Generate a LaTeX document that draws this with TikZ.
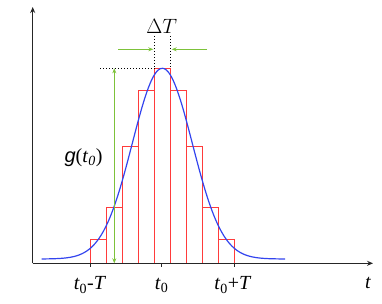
\documentclass[tikz,border=0pt]{standalone}
\usepackage{fontspec}
\setmainfont{Liberation Serif}
\newfontfamily\gsans{Liberation Sans}
\usetikzlibrary{arrows.meta}
\definecolor{curveblue}{HTML}{3344EE}
\definecolor{bargreen}{HTML}{7DC23A}
\definecolor{barred}{HTML}{FF3B3B}
\tikzset{
  axis/.style={line width=1.2pt, draw=black!85, -{Stealth[length=6pt,width=5pt]}},
  barbox/.style={draw=barred, line width=0.8pt},
  dimarrow/.style={draw=bargreen, line width=1pt, -{Stealth[length=5pt,width=4pt]}},
  dimarrowboth/.style={draw=bargreen, line width=1pt, {Stealth[length=5pt,width=4pt]}-{Stealth[length=5pt,width=4pt]}},
  dotline/.style={draw=black, line width=1pt, dotted},
  lab/.style={font=\fontsize{20}{24}\selectfont, inner sep=0pt}
}
\begin{document}
\begin{tikzpicture}[x=1pt,y=1pt]
\useasboundingbox (0,0) rectangle (382,303);
% axes
\coordinate (O) at (32.7,39.7);
\coordinate (ytop) at (32.7,296);
\coordinate (xend) at (373,39.7);
% bars
\foreach \i/\h in {0/24,1/56,2/116.7,3/173.3,4/195,5/173.3,6/116.7,7/56,8/24}{
  \draw[barbox] ({90.3+16*\i},39.7) rectangle ({106.3+16*\i},{39.7+\h});
}
% gaussian
\draw[curveblue, line width=1.2pt, domain=41.7:285, samples=120, smooth]
  plot (\x,{44+190.7*exp(-((\x-162.3)^2)/(2*30*30))});
\draw[axis] (O) -- (ytop);
\draw[axis] (O) -- (xend);
% ticks
\coordinate (tm) at (90.3,39.7);
\coordinate (tc) at (161.7,39.7);
\coordinate (tp) at (234.3,39.7);
\foreach \c in {tm,tc,tp}{ \draw[line width=1pt, black!85] (\c) -- ++(0,-4); }
% dotted guides
\coordinate (dl) at (100,234.7);
\coordinate (pkl) at (154.3,234.7);
\coordinate (pkr) at (170.3,234.7);
\coordinate (dtl) at (154.3,267);
\coordinate (dtr) at (170.3,267);
\draw[dotline] (dl) -- (pkl);
\draw[dotline] (dtl) -- (pkl);
\draw[dotline] (dtr) -- (pkr);
% green arrows
\coordinate (gtop) at (114.3,234.7);
\coordinate (gbot) at (114.3,39.7);
\draw[dimarrowboth] (gtop) -- (gbot);
\coordinate (al0) at (118,253.7);
\coordinate (al1) at (153.3,253.7);
\coordinate (ar0) at (207,253.7);
\coordinate (ar1) at (171.7,253.7);
\draw[dimarrow] (al0) -- (al1);
\draw[dimarrow] (ar0) -- (ar1);
% labels
\node[lab] (dT) at (161.7,277) {$\Delta T$};
\node[lab] (g) at (83.5,145) {{\gsans\itshape g}(\textit{t}\textsubscript{\textit{0}})};
\node[lab] (lm) at (90,18) {\textit{t}\textsubscript{0}-\textit{T}};
\node[lab] (lc) at (161.7,18) {\textit{t}\textsubscript{0}};
\node[lab] (lp) at (233,18) {\textit{t}\textsubscript{0}+\textit{T}};
\node[lab] (lt) at (368,20) {\textit{t}};
\end{tikzpicture}
\end{document}
